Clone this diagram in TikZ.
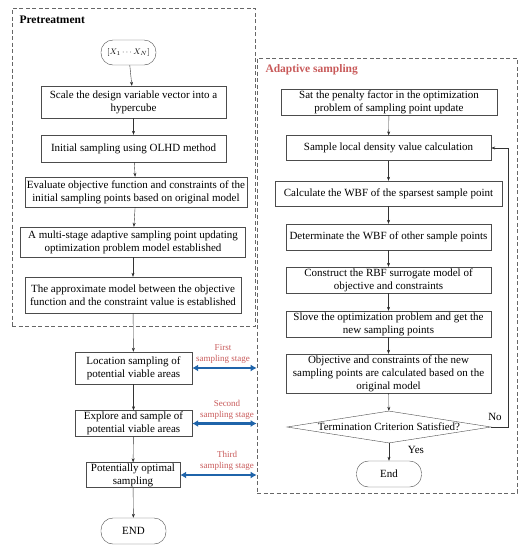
\documentclass[tikz,border=0pt]{standalone}
\usepackage{fontspec}
\setmainfont{Liberation Serif}
\usetikzlibrary{shapes.geometric,arrows.meta}
\definecolor{stagered}{HTML}{C85A5A}
\definecolor{stageblue}{HTML}{1F64AA}
\begin{document}
\begin{tikzpicture}[x=1pt,y=-1pt,
                    font=\fontsize{11}{13}\selectfont,
                    box/.style={rectangle,draw=black!70,align=center,inner sep=1pt},
                    term/.style={rectangle,rounded corners=12pt,draw=black!70,minimum width=65pt,minimum height=26pt},
                    decide/.style={diamond,draw=black!70,aspect=6.4,inner sep=0pt,minimum width=204pt,minimum height=32pt},
                    frame/.style={rectangle,draw=black!60,dash pattern=on 4pt off 2.5pt,line width=0.7pt},
                    flow/.style={draw=black!80,-{Stealth[length=4pt,width=3pt]}},
                    stage/.style={stageblue,line width=2.4pt,{Latex[length=6pt,width=7pt]}-{Latex[length=6pt,width=7pt]}},
                    stagelabel/.style={stagered,align=center,font=\fontsize{9}{11}\selectfont}
                   ]
  \useasboundingbox (0,0) rectangle (532,550);

  % dashed frames
  \node[frame,minimum width=243pt,minimum height=318pt] (pre) at (133.5,167) {};
  \node[frame,minimum width=260pt,minimum height=435pt] (ada) at (387,275.5) {};
  \node[anchor=west,font=\bfseries\fontsize{11.5}{13}\selectfont] (pretitle) at (16,20) {Pretreatment};
  \node[anchor=west,stagered,font=\bfseries\fontsize{11.5}{13}\selectfont] (adatitle) at (262,70) {Adaptive sampling};

  % left column
  \node[term,minimum width=55pt,minimum height=25pt,font=\fontsize{8.5}{10}\selectfont] (start) at (128.5,52.5) {$[X_1\cdots X_N]$};
  \node[box,minimum width=185pt,minimum height=32pt] (scale) at (133.5,102) {Scale the design variable vector into a\\hypercube};
  \node[box,minimum width=185pt,minimum height=27pt] (olhd) at (133.5,148.5) {Initial sampling using OLHD method};
  \node[box,minimum width=222pt,minimum height=30pt] (eval) at (136,192) {Evaluate objective function and constraints of the\\initial sampling points based on original model};
  \node[box,minimum width=225pt,minimum height=30pt] (multi) at (133,242) {A multi-stage adaptive sampling point updating\\optimization problem model established};
  \node[box,minimum width=216pt,minimum height=36pt] (approx) at (133,295) {The approximate model between the objective\\function and the constraint value is established};
  \node[box,minimum width=117pt,minimum height=32pt] (loc) at (133.5,368) {Location sampling of\\potential viable areas};
  \node[box,minimum width=117pt,minimum height=26pt] (expl) at (133.5,423.5) {Explore and sample of\\potential viable areas};
  \node[box,minimum width=94pt,minimum height=24pt] (opt) at (133,475) {Potentially optimal\\sampling};
  \node[term] (stop) at (133.5,531) {END};

  % right column
  \node[box,minimum width=216pt,minimum height=26pt] (penalty) at (389,102) {Sat the penalty factor in the optimization\\problem of sampling point update};
  \node[box,minimum width=205pt,minimum height=25pt] (density) at (388.5,148) {Sample local density value calculation};
  \node[box,minimum width=227pt,minimum height=25pt] (sparse) at (388.5,193.5) {Calculate the WBF of the sparsest sample point};
  \node[box,minimum width=205pt,minimum height=26pt] (other) at (388.5,237) {Determinate the WBF of other sample points};
  \node[box,minimum width=205pt,minimum height=26pt] (rbf) at (388.5,280) {Construct the RBF surrogate model of\\objective and constraints};
  \node[box,minimum width=205pt,minimum height=26pt] (solve) at (388.5,324) {Slove the optimization problem and get the\\new sampling points};
  \node[box,minimum width=205pt,minimum height=39pt] (newpts) at (388.5,373.5) {Objective and constraints of the new\\sampling points are calculated based on the\\original model};
  \node[decide] (crit) at (389,427) {Termination Criterion Satisfied?};
  \node[term] (fin) at (389,474) {End};
  \node (yes) at (416,450) {Yes};
  \node (no) at (495,417) {No};
  \coordinate (loop) at (508,427);

  % stage labels
  \node[stagelabel] (first) at (223,354) {First\\sampling stage};
  \node[stagelabel] (second) at (227,410) {Second\\sampling stage};
  \node[stagelabel] (third) at (227,461) {Third\\sampling stage};

  \path[flow]
   (start) edge (scale)
   (scale) edge (olhd)
   (olhd) edge (eval)
   (eval) edge (multi)
   (multi) edge (approx)
   (approx) edge (loc)
   (loc) edge (expl)
   (expl) edge (opt)
   (opt) edge (stop)
   (penalty) edge (density)
   (density) edge (sparse)
   (sparse) edge (other)
   (other) edge (rbf)
   (rbf) edge (solve)
   (solve) edge (newpts)
   (newpts) edge (crit)
   (crit) edge (fin);
  \draw[flow] (crit.east) -- (loop) |- (density.east);

  \draw[stage] (loc.east) -- (loc.east -| ada.west);
  \draw[stage] (expl.east) -- (expl.east -| ada.west);
  \draw[stage] (opt.east) -- (opt.east -| ada.west);
\end{tikzpicture}
\end{document}
